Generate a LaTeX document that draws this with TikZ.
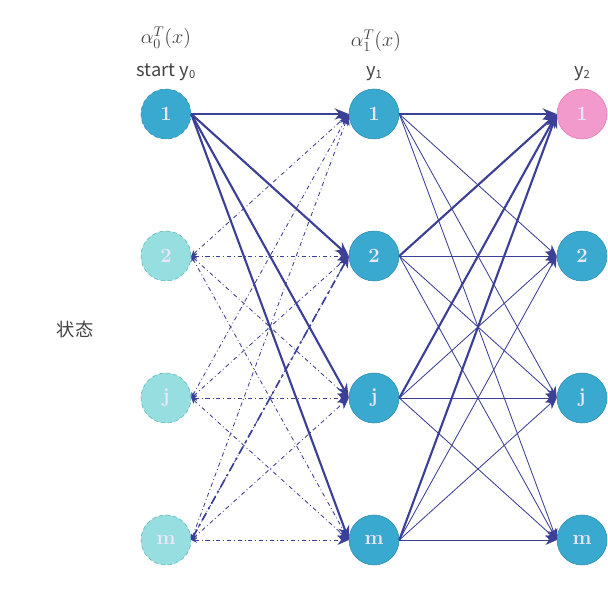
\documentclass[tikz,border=0pt]{standalone}
\usepackage{amsmath,amssymb}
\usepackage{fontspec}
\newfontfamily\cjk{Noto Sans CJK SC}
\usetikzlibrary{
  arrows.meta,
  positioning
}
\definecolor{edgeblue}{HTML}{3B3F96}
\definecolor{stateblue}{HTML}{3AA9CF}
\definecolor{stateborder}{HTML}{2E8DB0}
\definecolor{fadedteal}{HTML}{96DEE0}
\definecolor{fadedborder}{HTML}{5BB8B8}
\definecolor{statepink}{HTML}{F29ACB}
\definecolor{pinkborder}{HTML}{E57BB5}
\definecolor{statetext}{HTML}{EDE6FA}
\definecolor{labelgray}{HTML}{444444}

\begin{document}
\begin{tikzpicture}[
            node distance=3.55cm,
            % Stili dei nodi
            state/.style={circle, minimum size=1.25cm, inner sep=0pt, draw=stateborder, fill=stateblue, text=statetext, font=\Large\bfseries},
            faded/.style={state, densely dashed, draw=fadedborder, fill=fadedteal},
            endstate/.style={state, draw=pinkborder, fill=statepink},
            steplabel/.style={inner sep=0pt, text=labelgray, font=\cjk\fontsize{13}{15}\selectfont},
            alphalabel/.style={inner sep=0pt, text=labelgray, font=\Large},
            % Stili dei collegamenti
            strong/.style={line width=1.5pt, edgeblue, -{Stealth[length=10pt,width=8pt]}},
            weak/.style={line width=0.6pt, edgeblue, -{Stealth[length=8pt,width=7pt]}},
            back/.style={line width=0.6pt, edgeblue, dash dot, {Stealth[length=4pt,width=4pt]}-{Stealth[length=8pt,width=7pt]}}
        ]
        \useasboundingbox (0,0) rectangle (15.175,15.275);

        % Colonna y0
        \node (a1) [state, densely dashed] at (4.15,12.425) {1};
        \node (a2) [faded, below of=a1] {2};
        \node (aj) [faded, below of=a2] {j};
        \node (am) [faded, below of=aj] {m};

        % Colonna y1
        \node (b1) [state, right of=a1, xshift=1.65cm] {1};
        \node (b2) [state, below of=b1] {2};
        \node (bj) [state, below of=b2] {j};
        \node (bm) [state, below of=bj] {m};

        % Colonna y2
        \node (c1) [endstate, right of=b1, xshift=1.65cm] {1};
        \node (c2) [state, below of=c1] {2};
        \node (cj) [state, below of=c2] {j};
        \node (cm) [state, below of=cj] {m};

        % Etichette
        \node (start) [steplabel, above=0.2cm of a1] {start y\raisebox{-0.25ex}{\footnotesize 0}};
        \node (y1) [steplabel, above=0.2cm of b1] {y\raisebox{-0.25ex}{\footnotesize 1}};
        \node (y2) [steplabel, above=0.2cm of c1] {y\raisebox{-0.25ex}{\footnotesize 2}};
        \node (alpha0) [alphalabel, above=0.35cm of start] {$\alpha_0^T(x)$};
        \node (alpha1) [alphalabel, above=0.35cm of y1, xshift=0.05cm] {$\alpha_1^T(x)$};
        \node (states) [steplabel] at (1.875,7.025) {状态};

        % Collegamenti y0 -> y1
        \foreach \t in {1,2,j,m}
          \draw [strong] (a1.east) -- (b\t.west);
        \foreach \s in {2,j,m}
          \foreach \t in {1,2,j,m}
            \draw [back] (a\s.east) -- (b\t.west);
        \draw [back, line width=1.2pt, dash pattern=on 6pt off 3pt on 1.5pt off 3pt] (am.east) -- (b2.west);

        % Collegamenti y1 -> y2
        \foreach \s in {1,2,j,m}
          \draw [strong] (b\s.east) -- (c1.west);
        \foreach \s in {1,2,j,m}
          \foreach \t in {2,j,m}
            \draw [weak] (b\s.east) -- (c\t.west);

    \end{tikzpicture}
\end{document}
